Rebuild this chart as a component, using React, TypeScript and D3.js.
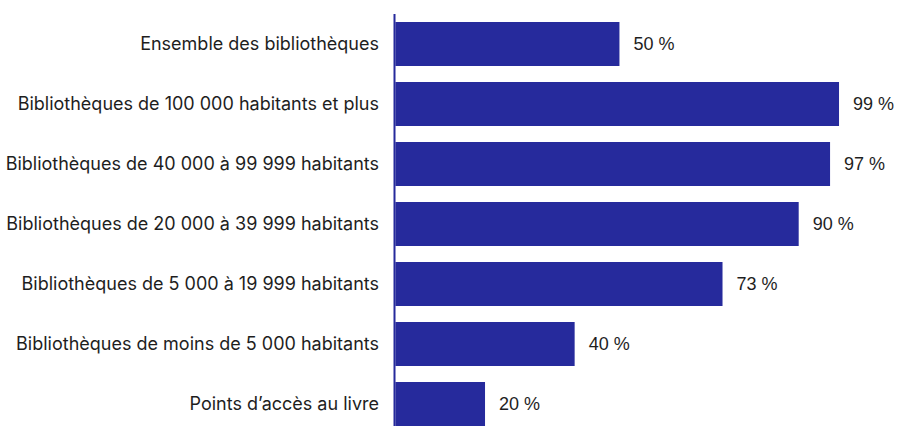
import React from "react";
import * as d3 from "d3";

const categories = [
  "Ensemble des bibliothèques",
  "Bibliothèques de 100 000 habitants et plus",
  "Bibliothèques de 40 000 à 99 999 habitants",
  "Bibliothèques de 20 000 à 39 999 habitants",
  "Bibliothèques de 5 000 à 19 999 habitants",
  "Bibliothèques de moins de 5 000 habitants",
  "Points d’accès au livre",
];
const values = [50, 99, 97, 90, 73, 40, 20];

const W = 897;
const H = 426;
const BAR = "#262a9c";

export default function App() {
  const x = d3.scaleLinear().domain([0, 100]).range([395.4, 843.5]);
  const y = d3
    .scaleBand<string>()
    .domain(categories)
    .range([14, 434])
    .paddingInner(16 / 60)
    .paddingOuter(8 / 60);
  return (
    <svg
      width={W}
      height={H}
      style={{ position: "absolute", left: 0, top: 0, background: "#fff" }}
    >
      {categories.map((c, i) => {
        const yy = y(c)!;
        const bw = y.bandwidth();
        return (
          <g key={c}>
            <rect x={x(0)} y={yy} width={x(values[i]) - x(0)} height={bw} fill={BAR} />
            <text
              x={379}
              y={yy + bw / 2}
              dy="0.36em"
              textAnchor="end"
              fontFamily="Inter, Roboto, sans-serif"
              fontSize={18}
              fill="#1e1e1e"
            >
              {c}
            </text>
            <text
              x={x(values[i]) + 14}
              y={yy + bw / 2}
              dy="0.36em"
              fontFamily="'Liberation Sans', Arial, sans-serif"
              fontSize={18}
              fill="#1e1e1e"
            >
              {values[i]} %
            </text>
          </g>
        );
      })}
      <line x1={394.5} x2={394.5} y1={14} y2={H} stroke={BAR} strokeWidth={2} />
    </svg>
  );
}
